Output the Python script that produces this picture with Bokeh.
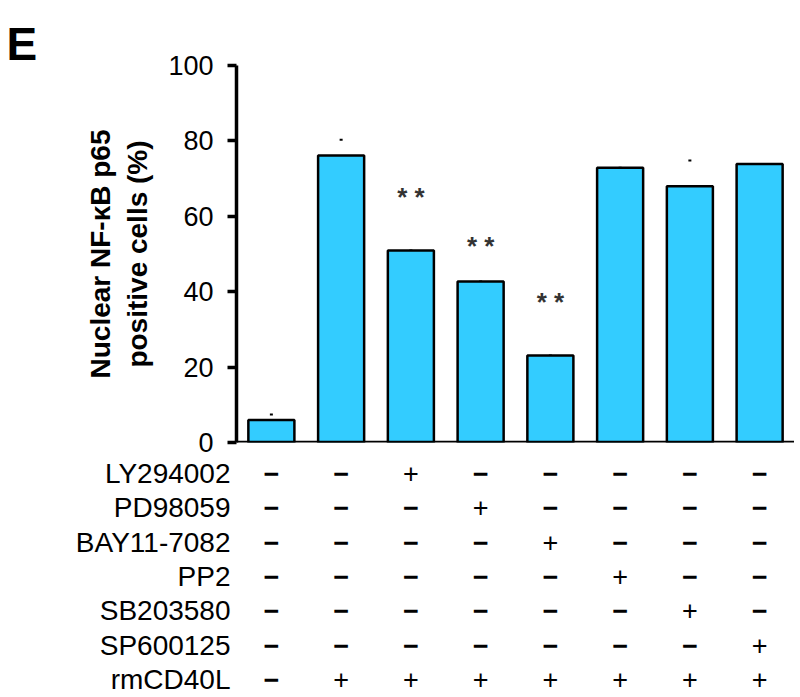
from bokeh.plotting import figure
from bokeh.models import ColumnDataSource, FactorRange, FixedTicker, Whisker, TeeHead, Span
from bokeh.core.properties import value
from bokeh.embed import file_html
from bokeh.resources import INLINE

# ---- data ----
groups = ["Control", "rmCD40L", "LY294002", "PD98059", "BAY11-7082", "PP2", "SB203580", "SP600125"]
positive_pct = [6.0, 76.1, 50.9, 42.7, 23.1, 72.9, 68.0, 73.9]
error_pct = [1.4, 4.2, 0.0, 0.0, 0.0, 0.0, 6.8, 0.0]

sig_groups = ["LY294002", "PD98059", "BAY11-7082"]
sig_marks = ["* *", "* *", "* *"]
sig_height = [66, 53, 38]

y_ticks = [0, 20, 40, 60, 80, 100]
y_label = "Nuclear NF-\u03baB p65\npositive cells (%)"
panel_letter = "E"

row_names = ["LY294002", "PD98059", "BAY11-7082", "PP2", "SB203580", "SP600125", "rmCD40L"]
row_LY294002 = ["-", "-", "+", "-", "-", "-", "-", "-"]
row_PD98059 = ["-", "-", "-", "+", "-", "-", "-", "-"]
row_BAY11_7082 = ["-", "-", "-", "-", "+", "-", "-", "-"]
row_PP2 = ["-", "-", "-", "-", "-", "+", "-", "-"]
row_SB203580 = ["-", "-", "-", "-", "-", "-", "+", "-"]
row_SP600125 = ["-", "-", "-", "-", "-", "-", "-", "+"]
row_rmCD40L = ["-", "+", "+", "+", "+", "+", "+", "+"]
table_rows = [row_LY294002, row_PD98059, row_BAY11_7082, row_PP2,
              row_SB203580, row_SP600125, row_rmCD40L]

# ---- style ----
FONT = "Liberation Sans"
BAR_COLOR = "#33ccff"
ROW_FIRST = 31     # px below the x axis
ROW_STEP = 34.3    # px between table rows

p = figure(width=794, height=696, x_range=FactorRange(*groups, range_padding=0),
           y_range=(0, 100), output_backend="svg", toolbar_location=None,
           x_axis_location=None,
           min_border_left=236, min_border_right=0, min_border_top=65,
           min_border_bottom=254)
p.title.visible = False
p.outline_line_color = None
p.grid.visible = False
p.background_fill_color = "white"
p.border_fill_color = "white"

src = ColumnDataSource(dict(x=groups, top=positive_pct,
                            upper=[v + e for v, e in zip(positive_pct, error_pct)],
                            lower=positive_pct))
p.vbar(x="x", top="top", width=0.66, bottom=0, source=src,
       fill_color=BAR_COLOR, line_color="black", line_width=2.5)

w = Whisker(base="x", upper="upper", lower="lower", source=src,
            line_alpha=0.0,
            upper_head=TeeHead(size=3, line_width=2, line_color="black"),
            lower_head=None)
p.add_layout(w)

p.text(x=sig_groups, y=sig_height, text=sig_marks, text_align="center",
       text_baseline="middle", text_font=value(FONT), text_font_size="26px",
       text_font_style="bold", text_color="#333333", y_offset=3)

# y axis
yax = p.yaxis[0]
yax.ticker = FixedTicker(ticks=y_ticks)
yax.minor_tick_line_color = None
yax.major_tick_in = 0
yax.major_tick_out = 9
yax.major_tick_line_width = 3.5
yax.axis_line_width = 3.5
yax.major_label_text_font = FONT
yax.major_label_text_font_size = "27px"
yax.major_label_text_color = "black"
yax.major_label_standoff = 14
yax.axis_label = y_label
yax.axis_label_text_font = FONT
yax.axis_label_text_font_size = "28px"
yax.axis_label_text_font_style = "bold"
yax.axis_label_text_color = "black"
yax.axis_label_standoff = 12

# x axis line
p.add_layout(Span(location=0, dimension="width", line_color="black", line_width=3.5))

# treatment table under the bars
minus_x, minus_off, plus_x, plus_off = [], [], [], []
for i, row in enumerate(table_rows):
    for g, s in zip(groups, row):
        if s == "-":
            minus_x.append(g)
            minus_off.append(ROW_FIRST + ROW_STEP * i)
        else:
            plus_x.append(g)
            plus_off.append(ROW_FIRST + ROW_STEP * i)
p.text(x="x", y="y", text="text", y_offset="off",
       source=ColumnDataSource(dict(x=minus_x, y=[0] * len(minus_x),
                                    text=["\u2212"] * len(minus_x), off=minus_off)),
       text_align="center", text_baseline="middle", text_font=value(FONT),
       text_font_size="27px", text_font_style="bold", text_color="black", level="annotation")
p.text(x="x", y="y", text="text", y_offset="off",
       source=ColumnDataSource(dict(x=plus_x, y=[0] * len(plus_x),
                                    text=["+"] * len(plus_x), off=plus_off)),
       text_align="center", text_baseline="middle", text_font=value(FONT),
       text_font_size="27px", text_color="black", level="annotation")

p.text(x="x", y="y", text="text", y_offset="off",
       source=ColumnDataSource(dict(x=[0] * len(row_names), y=[0] * len(row_names),
                                    text=row_names,
                                    off=[ROW_FIRST + ROW_STEP * i for i in range(len(row_names))])),
       x_offset=-6, text_align="right", text_baseline="middle", text_font=value(FONT),
       text_font_size="28px", text_color="black", level="annotation")

# panel letter
p.text(x=[0], y=[100], text=[panel_letter], x_offset=-230, y_offset=-22,
       text_align="left", text_baseline="alphabetic", text_font=value(FONT),
       text_font_size="46px", text_font_style="bold", text_color="black",
       level="annotation")

open("out.html", "w").write(file_html(p, INLINE))
